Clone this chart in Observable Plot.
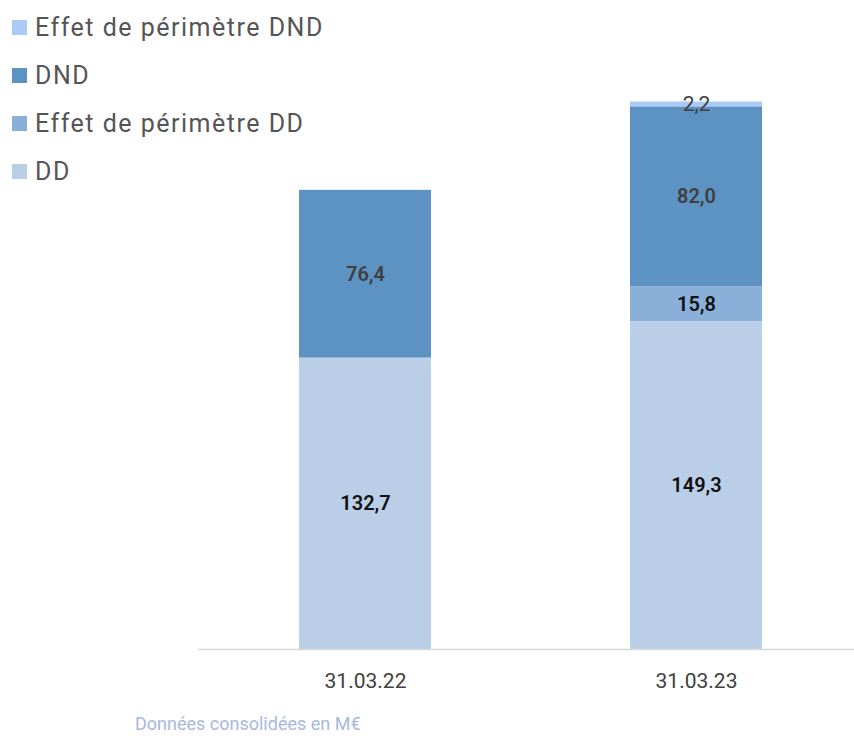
<!DOCTYPE html>
<html>
<head>
<meta charset="utf-8">
<script src="https://cdn.jsdelivr.net/npm/d3@7"></script>
<script src="https://cdn.jsdelivr.net/npm/@observablehq/plot@0.6"></script>
<style>
  body { margin: 0; background: #fff; }
  #wrap { position: relative; width: 854px; height: 736px; overflow: hidden; font-family: Roboto, sans-serif; }
  #chart { position: absolute; left: 0; top: 0; }
  #legend { position: absolute; left: 12px; top: 3px; }
  .item { display: flex; align-items: center; height: 48px; font-size: 25px; color: #555; letter-spacing: 1.5px; }
  .sw { width: 15px; height: 15px; margin-right: 8px; }
  #caption { position: absolute; left: 135px; top: 713px; font-size: 18px; color: #a9b8dd; letter-spacing: 0px; }
</style>
</head>
<body>
<div id="wrap">
  <div id="chart"></div>
  <div id="legend"></div>
  <div id="caption">Données consolidées en M€</div>
</div>
<script>
const dates = ["31.03.22", "31.03.23"];
const series = ["DD", "Effet de périmètre DD", "DND", "Effet de périmètre DND"];
const colors = ["#bacfe7", "#8aafd9", "#5c93c3", "#abcaf5"];
const ddValues = [132.7, 149.3];
const effetDDValues = [0, 15.8];
const dndValues = [76.4, 82.0];
const effetDNDValues = [0, 2.2];

const valuesBySeries = [ddValues, effetDDValues, dndValues, effetDNDValues];
const data = [];
series.forEach((s, i) => {
  dates.forEach((d, j) => {
    data.push({date: d, series: s, value: valuesBySeries[i][j]});
  });
});

const fmt = v => d3.format(".1f")(v).replace(".", ",");

const stackOpts = (extra) => Plot.stackY({x: "date", y: "value", z: "series", order: series, ...extra});

const chart = Plot.plot({
  width: 854,
  height: 736,
  marginTop: 100,
  marginBottom: 87,
  marginLeft: 198,
  marginRight: 0,
  x: {domain: dates, range: [215, 845], paddingInner: 0.6024, paddingOuter: 0.25, label: null},
  y: {domain: [0, 250], axis: null},
  color: {domain: series, range: colors},
  style: {fontFamily: "Roboto, sans-serif", background: "transparent"},
  marks: [
    Plot.barY(data, stackOpts({fill: "series", inset: 0})),
    Plot.ruleY([0], {stroke: "#d9d9d9", strokeWidth: 1.5}),
    Plot.text(data, stackOpts({
      text: d => (d.value > 0 && (d.series === "DD" || d.series === "Effet de périmètre DD")) ? fmt(d.value) : null,
      fill: "#111", fontSize: 20, fontWeight: 600})),
    Plot.text(data, stackOpts({
      text: d => (d.value > 0 && d.series === "DND") ? fmt(d.value) : null,
      fill: "#404040", fontSize: 20, fontWeight: 600})),
    Plot.text(data, stackOpts({
      text: d => (d.value > 0 && d.series === "Effet de périmètre DND") ? fmt(d.value) : null,
      fill: "#404040", fontSize: 21, fontWeight: 400})),
    Plot.axisX({tickSize: 0, tickPadding: 24, fontSize: 21, color: "#404040", label: null})
  ]
});
document.getElementById("chart").appendChild(chart);

const legend = document.getElementById("legend");
const legendOrder = ["Effet de périmètre DND", "DND", "Effet de périmètre DD", "DD"];
legendOrder.forEach(s => {
  const item = document.createElement("div");
  item.className = "item";
  const sw = document.createElement("div");
  sw.className = "sw";
  sw.style.background = colors[series.indexOf(s)];
  const t = document.createElement("span");
  t.textContent = s;
  item.appendChild(sw);
  item.appendChild(t);
  legend.appendChild(item);
});
</script>
</body>
</html>
